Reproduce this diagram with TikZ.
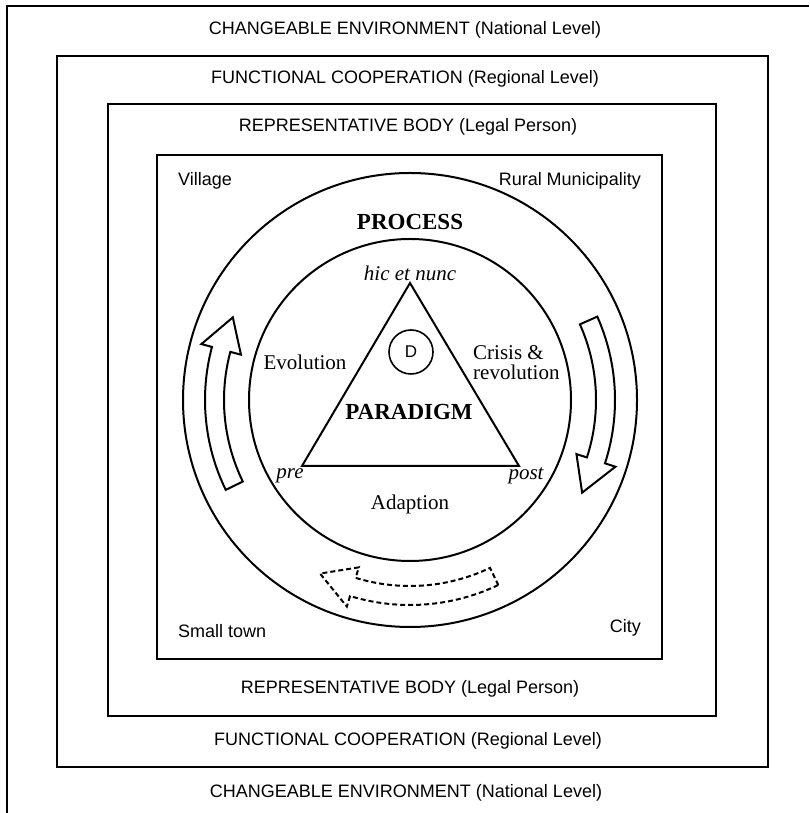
\documentclass[tikz,border=0pt]{standalone}
\usepackage{fontspec}
\setmainfont{Liberation Serif}
\setsansfont{Liberation Sans}
\usetikzlibrary{calc}

% curved band arrow around centre C: [style] {tail angle} {head base angle} {tip angle}
\newcommand\procarrow[4][]{%
  \draw[band,#1] ($(C)+(#2:205)$) arc[start angle=#2, end angle=#3, radius=205pt]
    -- ($(C)+(#3:216)$) -- ($(C)+(#4:195.5)$) -- ($(C)+(#3:175)$) -- ($(C)+(#3:186)$)
    arc[start angle=#3, end angle=#2, radius=186pt] -- cycle;}

\begin{document}
\begin{tikzpicture}[x=1pt,y=1pt,
  frame/.style={line width=2pt, line join=miter},
  lvl/.style={font=\sffamily\fontsize{18}{21}\selectfont, inner sep=0pt},
  serif/.style={font=\fontsize{21}{20}\selectfont, inner sep=0pt},
  serifit/.style={font=\itshape\fontsize{21}{21}\selectfont, inner sep=0pt},
  headline/.style={font=\bfseries\fontsize{23}{23}\selectfont, inner sep=0pt},
  band/.style={line width=2pt, line join=miter},
]
\useasboundingbox (0,0) rectangle (809,813);

% outer environment (open to the right and bottom)
\draw[frame] (7,0) -- (7,807) -- (809,807);
% nested levels
\draw[frame] (57,46) rectangle (768,757);
\draw[frame] (108,97) rectangle (716,709);
\draw[frame] (157,154) rectangle (662,658);

% level labels
\node[lvl] (envT) at (405,783) {CHANGEABLE ENVIRONMENT (National Level)};
\node[lvl] (envB) at (406,20) {CHANGEABLE ENVIRONMENT (National Level)};
\node[lvl] (funT) at (405,734) {FUNCTIONAL COOPERATION (Regional Level)};
\node[lvl] (funB) at (408,72) {FUNCTIONAL COOPERATION (Regional Level)};
\node[lvl] (repT) at (408,686) {REPRESENTATIVE BODY (Legal Person)};
\node[lvl] (repB) at (410,124) {REPRESENTATIVE BODY (Legal Person)};

% settlement types in the corners
\node[lvl, anchor=west] (village) at (178,632) {Village};
\node[lvl, anchor=east] (rural) at (641,632) {Rural Municipality};
\node[lvl, anchor=west] (small) at (178,182) {Small town};
\node[lvl, anchor=east] (city) at (641,185) {City};

% process rings
\coordinate (C) at (410,413);
\draw[line width=2pt] (C) circle[radius=227pt];
\draw[line width=2pt] (C) circle[radius=161pt];
\node[headline] (process) at (410,591) {PROCESS};

% circulating arrows
\procarrow{206}{165}{155}
\procarrow{24}{-18}{-28.3}
\procarrow[dashed, dash pattern=on 5pt off 3pt]{295.5}{253}{242.6}

% paradigm triangle
\coordinate (top) at (410,530);
\coordinate (left) at (302,347);
\coordinate (right) at (519,347);
\draw[line width=2pt, line join=miter] (top) -- (left) -- (right) -- cycle;
\node[draw, circle, line width=1.6pt, minimum size=44pt, inner sep=0pt,
      font=\sffamily\fontsize{17}{17}\selectfont] (D) at (411,461) {D};
\node[headline] (paradigm) at (409,401) {PARADIGM};

% phase labels
\node[serifit] (hic) at (410,540) {hic et nunc};
\node[serifit] (pre) at (290,337) {pre};
\node[serifit] (post) at (526,337) {post};
\node[serif] (evo) at (305,451) {Evolution};
\node[serif, anchor=west, align=left] (crisis) at (473,450) {Crisis \&\\revolution};
\node[serif] (adapt) at (410,309) {Adaption};
\end{tikzpicture}
\end{document}
